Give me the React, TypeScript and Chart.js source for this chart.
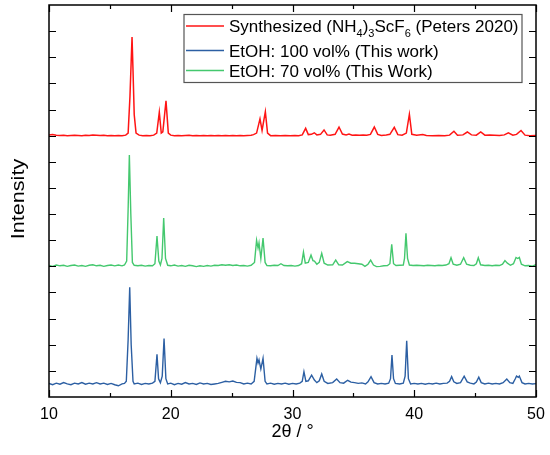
import React, { useEffect, useRef } from "react";
import { Chart, registerables } from "chart.js";

Chart.register(...registerables);

// ---- data ----
const blueX = [10.0,10.3,10.6,10.9,11.2,11.5,11.8,12.1,12.4,12.7,13.0,13.3,13.6,13.9,14.2,14.5,14.8,15.1,15.4,15.7,16.0,16.2,16.35,16.5,16.63,16.75,16.9,17.0,17.3,17.6,17.9,18.2,18.5,18.7,18.87,19.0,19.15,19.3,19.45,19.6,19.75,20.0,20.3,20.6,20.9,21.2,21.5,21.8,22.1,22.4,22.7,23.0,23.3,23.6,23.9,24.2,24.5,24.8,25.1,25.4,25.7,26.0,26.3,26.6,26.85,27.08,27.17,27.25,27.4,27.58,27.75,27.9,28.2,28.5,28.8,29.1,29.4,29.7,30.0,30.3,30.6,30.8,30.94,31.1,31.3,31.57,31.8,32.0,32.2,32.4,32.6,32.9,33.3,33.63,33.9,34.2,34.53,34.8,35.1,35.4,35.7,36.0,36.2,36.45,36.7,37.0,37.3,37.6,37.9,38.05,38.17,38.3,38.45,38.8,39.1,39.25,39.38,39.52,39.7,40.0,40.3,40.6,40.9,41.2,41.5,41.8,42.1,42.4,42.7,42.9,43.07,43.25,43.5,43.8,44.1,44.35,44.6,44.9,45.1,45.3,45.5,45.8,46.1,46.4,46.7,47.0,47.3,47.6,47.85,48.1,48.3,48.4,48.55,48.63,48.85,49.1,49.4,49.7,50.0];
const blueY = [0.52,0.47,0.53,0.49,0.55,0.5,0.47,0.53,0.5,0.55,0.49,0.53,0.5,0.55,0.5,0.53,0.48,0.52,0.47,0.43,0.5,0.52,0.6,2.2,4.2,2.0,0.6,0.5,0.53,0.48,0.52,0.5,0.53,0.6,1.63,0.7,0.55,0.8,2.24,0.7,0.5,0.53,0.47,0.52,0.49,0.55,0.5,0.52,0.48,0.54,0.5,0.52,0.48,0.5,0.52,0.56,0.6,0.58,0.61,0.56,0.55,0.5,0.53,0.5,0.6,1.48,1.3,1.42,1.07,1.48,0.6,0.5,0.53,0.49,0.52,0.5,0.53,0.49,0.52,0.5,0.53,0.6,0.97,0.6,0.62,0.84,0.65,0.55,0.62,0.88,0.6,0.52,0.55,0.69,0.55,0.53,0.64,0.57,0.55,0.52,0.54,0.5,0.58,0.78,0.55,0.5,0.52,0.5,0.53,0.7,1.61,0.7,0.52,0.5,0.53,0.8,2.15,0.7,0.5,0.52,0.5,0.52,0.49,0.52,0.5,0.53,0.5,0.52,0.53,0.6,0.78,0.58,0.52,0.55,0.8,0.58,0.53,0.5,0.57,0.76,0.55,0.5,0.53,0.5,0.52,0.5,0.55,0.69,0.55,0.52,0.7,0.8,0.75,0.8,0.55,0.5,0.52,0.5,0.51];

const greenX = [10.0,10.3,10.6,10.9,11.2,11.5,11.8,12.1,12.4,12.7,13.0,13.3,13.6,13.9,14.2,14.5,14.8,15.1,15.4,15.7,16.0,16.2,16.38,16.5,16.6,16.72,16.85,17.0,17.3,17.6,17.9,18.2,18.5,18.7,18.87,19.02,19.15,19.28,19.42,19.57,19.75,20.0,20.3,20.6,20.9,21.2,21.5,21.8,22.1,22.4,22.7,23.0,23.3,23.6,23.9,24.2,24.5,24.8,25.1,25.4,25.7,26.0,26.3,26.6,26.88,27.05,27.17,27.25,27.4,27.58,27.75,27.9,28.2,28.5,28.8,29.05,29.3,29.6,29.9,30.2,30.5,30.75,30.9,31.05,31.3,31.52,31.68,31.8,32.0,32.2,32.4,32.6,32.9,33.3,33.55,33.8,34.1,34.5,34.8,35.1,35.4,35.7,35.95,36.2,36.42,36.65,36.9,37.2,37.5,37.8,38.0,38.15,38.3,38.5,38.8,39.1,39.2,39.32,39.45,39.6,39.9,40.2,40.5,40.8,41.1,41.4,41.7,42.0,42.3,42.6,42.85,43.02,43.2,43.5,43.8,44.06,44.3,44.6,44.9,45.1,45.26,45.45,45.8,46.1,46.4,46.7,47.0,47.25,47.45,47.65,47.9,48.15,48.36,48.5,48.63,48.8,49.1,49.4,49.7,49.85,50.0];
const greenY = [5.03,5.0,5.05,5.02,5.04,5.0,5.03,5.05,5.01,5.03,5.0,5.04,5.06,5.02,5.04,5.0,5.03,5.05,5.02,5.05,5.02,5.05,5.2,7.2,9.26,7.0,5.15,5.04,5.02,5.04,5.01,5.03,5.02,5.1,6.16,5.2,5.05,5.3,6.85,5.3,5.04,5.02,5.05,5.01,5.03,5.0,5.04,5.02,4.99,5.02,5.0,5.03,5.01,5.04,5.03,5.06,5.04,5.06,5.03,5.05,5.02,5.03,5.01,5.04,5.15,6.0,5.7,5.9,5.3,6.08,5.15,5.03,5.02,5.04,5.03,5.1,5.03,5.02,5.03,5.01,5.03,5.1,5.54,5.12,5.15,5.43,5.22,5.2,5.08,5.15,5.5,5.12,5.05,5.06,5.24,5.06,5.05,5.18,5.12,5.12,5.1,5.08,5.0,5.08,5.24,5.05,4.99,5.0,5.02,5.03,5.1,5.84,5.1,5.03,5.04,5.05,5.3,6.26,5.3,5.05,5.03,5.04,5.03,5.02,5.04,5.03,5.02,5.04,5.03,5.05,5.1,5.33,5.08,5.04,5.08,5.33,5.08,5.04,5.03,5.1,5.33,5.06,5.03,5.04,5.02,5.04,5.03,5.08,5.22,5.12,5.04,5.1,5.34,5.3,5.34,5.08,5.02,5.03,5.01,5.04,5.06];

const redX = [10.0,10.3,10.6,10.9,11.2,11.5,11.8,12.1,12.4,12.7,13.0,13.3,13.6,13.9,14.2,14.5,14.8,15.1,15.4,15.7,16.0,16.3,16.5,16.65,16.82,16.9,17.0,17.15,17.4,17.7,18.0,18.3,18.6,18.85,19.06,19.22,19.35,19.61,19.8,20.0,20.3,20.6,20.9,21.2,21.5,21.8,22.1,22.4,22.7,23.0,23.3,23.6,23.9,24.2,24.5,24.8,25.1,25.4,25.7,26.0,26.3,26.6,26.8,27.05,27.33,27.5,27.77,27.95,28.2,28.6,29.0,29.4,29.8,30.2,30.5,30.8,31.08,31.3,31.55,31.79,32.0,32.3,32.59,32.85,33.1,33.5,33.82,34.1,34.4,34.64,34.9,35.2,35.5,35.8,36.1,36.4,36.72,37.0,37.3,37.7,38.0,38.36,38.65,39.0,39.35,39.6,39.8,40.2,40.7,41.0,41.5,42.0,42.5,42.9,43.26,43.55,44.0,44.36,44.7,45.1,45.46,45.8,46.2,46.6,47.0,47.4,47.73,48.1,48.4,48.77,49.1,49.5,50.0];
const redY = [10.03,10.04,10.02,10.01,10.02,10.0,10.01,10.02,10.01,10.0,10.02,10.01,10.03,10.02,10.01,10.02,10.0,10.01,10.0,10.01,10.0,10.02,10.1,11.5,13.77,12.5,10.8,10.1,10.02,10.0,10.01,10.0,10.02,10.1,10.9,10.1,10.15,11.33,10.1,10.02,10.0,10.01,10.0,10.01,10.02,10.0,10.01,10.0,10.01,10.0,10.01,10.0,10.01,10.0,10.01,10.0,10.01,10.0,10.01,10.0,10.01,10.02,10.04,10.1,10.64,10.2,10.92,10.1,10.0,10.01,10.0,10.01,10.0,10.01,10.0,10.03,10.28,10.04,10.05,10.11,10.03,10.05,10.22,10.03,10.02,10.05,10.33,10.06,10.03,10.06,10.02,10.03,10.02,10.03,10.02,10.05,10.33,10.05,10.01,10.03,10.05,10.32,10.04,10.02,10.1,10.82,10.05,10.02,10.04,10.01,10.0,10.01,10.0,10.02,10.17,10.02,10.03,10.14,10.03,10.02,10.14,10.02,10.03,10.02,10.01,10.03,10.11,10.02,10.05,10.2,10.02,10.0,10.01];

const xMajorTicks = [10, 20, 30, 40, 50];
const xMinorTicks = [15, 25, 35, 45];
const yTickValues = [1, 2, 3, 4, 5, 6, 7, 8, 9, 10, 11, 12, 13, 14];

const xTitle = "2θ / °";
const yTitle = "Intensity";

const colorRed = "#ff1414";
const colorBlue = "#2c5fa3";
const colorGreen = "#44c86e";

// legend entries: segments [text, isSubscript]
const legendEntries: { color: string; parts: [string, boolean][] }[] = [
  {
    color: colorRed,
    parts: [["Synthesized (NH", false], ["4", true], [")", false], ["3", true], ["ScF", false], ["6", true], [" (Peters 2020)", false]],
  },
  { color: colorBlue, parts: [["EtOH: 100 vol% (This work)", false]] },
  { color: colorGreen, parts: [["EtOH: 70 vol% (This Work)", false]] },
];

const FONT = "'Liberation Sans', Arial, sans-serif";

function toPoints(xs: number[], ys: number[]) {
  return xs.map((x, i) => ({ x, y: ys[i] }));
}

const decorPlugin = {
  id: "decor",
  afterDraw(chart: any) {
    const { ctx, chartArea: a, scales } = chart;
    const x = scales.x;
    const y = scales.y;
    ctx.save();
    ctx.strokeStyle = "#000";
    ctx.lineWidth = 1.5;
    ctx.strokeRect(a.left, a.top, a.right - a.left, a.bottom - a.top);
    ctx.lineWidth = 1.2;
    ctx.beginPath();
    for (const v of yTickValues) {
      const py = Math.round(y.getPixelForValue(v)) + 0.5;
      ctx.moveTo(a.left, py);
      ctx.lineTo(a.left + 7, py);
      ctx.moveTo(a.right, py);
      ctx.lineTo(a.right - 7, py);
    }
    for (const v of xMajorTicks) {
      const px = Math.round(x.getPixelForValue(v)) + 0.5;
      ctx.moveTo(px, a.bottom);
      ctx.lineTo(px, a.bottom - 7);
      ctx.moveTo(px, a.top);
      ctx.lineTo(px, a.top + 7);
    }
    for (const v of xMinorTicks) {
      const px = Math.round(x.getPixelForValue(v)) + 0.5;
      ctx.moveTo(px, a.bottom);
      ctx.lineTo(px, a.bottom - 4);
      ctx.moveTo(px, a.top);
      ctx.lineTo(px, a.top + 4);
    }
    ctx.stroke();

    // axis titles
    ctx.fillStyle = "#000";
    ctx.font = `18px ${FONT}`;
    ctx.textAlign = "center";
    ctx.textBaseline = "middle";
    ctx.fillText(xTitle, (a.left + a.right) / 2, 432);
    ctx.save();
    ctx.translate(19.5, (a.top + a.bottom) / 2 - 2);
    ctx.rotate(-Math.PI / 2);
    ctx.scale(1.2, 1);
    ctx.fillText(yTitle, 0, 0);
    ctx.restore();

    // legend
    const bx = 184, by = 14.5, bw = 338, bh = 68;
    ctx.fillStyle = "#fff";
    ctx.fillRect(bx, by, bw, bh);
    ctx.strokeStyle = "#555";
    ctx.lineWidth = 1.2;
    ctx.strokeRect(bx, by, bw, bh);
    const rowsBaseline = [32.3, 56.7, 76.7];
    const lineY = [26, 50.5, 70.5];
    legendEntries.forEach((e, i) => {
      ctx.strokeStyle = e.color;
      ctx.lineWidth = 1.5;
      ctx.beginPath();
      ctx.moveTo(186, lineY[i]);
      ctx.lineTo(224, lineY[i]);
      ctx.stroke();
      let tx = 229;
      ctx.fillStyle = "#000";
      ctx.textAlign = "left";
      ctx.textBaseline = "alphabetic";
      for (const [t, sub] of e.parts) {
        ctx.font = sub ? `11px ${FONT}` : `17px ${FONT}`;
        ctx.fillText(t, tx, rowsBaseline[i] + (sub ? 4.5 : 0));
        tx += ctx.measureText(t).width;
      }
    });
    ctx.restore();
  },
};

export default function App() {
  const ref = useRef<HTMLCanvasElement | null>(null);
  useEffect(() => {
    if (!ref.current) return;
    const chart = new Chart(ref.current, {
      type: "scatter",
      data: {
        datasets: [
          { label: "red", data: toPoints(redX, redY), borderColor: colorRed, showLine: true, pointRadius: 0, borderWidth: 1.5, tension: 0 },
          { label: "green", data: toPoints(greenX, greenY), borderColor: colorGreen, showLine: true, pointRadius: 0, borderWidth: 1.4, tension: 0 },
          { label: "blue", data: toPoints(blueX, blueY), borderColor: colorBlue, showLine: true, pointRadius: 0, borderWidth: 1.4, tension: 0 },
        ],
      },
      options: {
        animation: false,
        responsive: true,
        maintainAspectRatio: false,
        layout: { padding: { left: 49, right: 14, top: 5, bottom: 0 } },
        plugins: { legend: { display: false }, tooltip: { enabled: false } },
        scales: {
          x: {
            type: "linear",
            min: 10,
            max: 50,
            afterFit: (s: any) => { s.height = 58; s.paddingLeft = 0; s.paddingRight = 0; },
            afterBuildTicks: (s: any) => { s.ticks = xMajorTicks.map((v) => ({ value: v })); },
            ticks: { color: "#000", font: { family: FONT, size: 16 }, padding: 8 },
            grid: { display: false, drawTicks: false },
            border: { display: false },
          },
          y: { type: "linear", min: 0, max: 15, display: false },
        },
      },
      plugins: [decorPlugin],
    });
    return () => chart.destroy();
  }, []);
  return (
    <div style={{ position: "fixed", left: 0, top: 0, width: 550, height: 455, background: "#fff" }}>
      <canvas ref={ref} />
    </div>
  );
}
